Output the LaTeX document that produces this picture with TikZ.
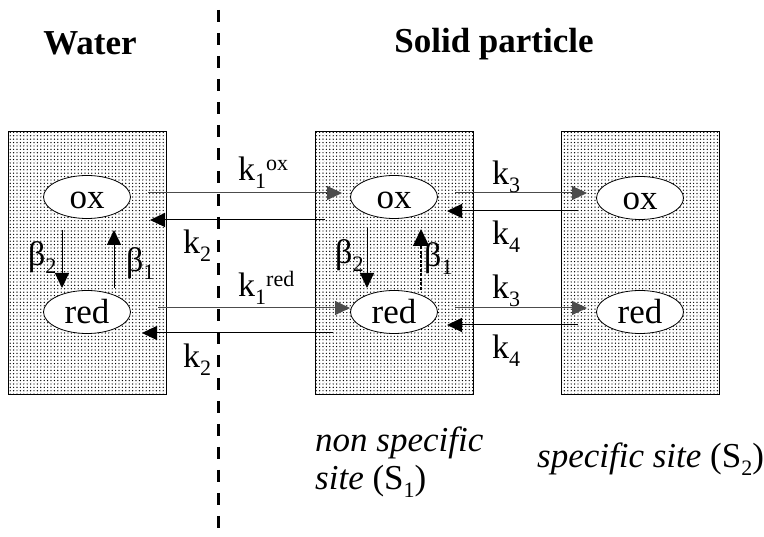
\documentclass[tikz,border=0pt]{standalone}
\usepackage{fontspec}
\setmainfont{Liberation Serif}
\usetikzlibrary{arrows.meta,patterns,shapes.geometric}

% stippled fill for the compartments
\pgfdeclarepatternformonly{stipple}{\pgfqpoint{-1pt}{-1pt}}{\pgfqpoint{1pt}{1pt}}{\pgfqpoint{3.4pt}{3.4pt}}{%
  \pgfpathcircle{\pgfqpoint{0pt}{0pt}}{0.7pt}%
  \pgfpathcircle{\pgfqpoint{1.7pt}{1.7pt}}{0.7pt}%
  \pgfusepath{fill}}

% lowered and raised indices
\newcommand{\lowidx}[1]{\raisebox{-8pt}{\fontsize{22}{22}\selectfont #1}}
\newcommand{\upidx}[1]{\raisebox{10pt}{\fontsize{22}{22}\selectfont #1}}

\tikzset{
  compartment/.style={draw=black, line width=1pt, pattern=stipple, pattern color=black},
  species/.style={ellipse, draw=black, line width=0.8pt, fill=white, minimum width=87pt,
                  minimum height=43pt, inner sep=0pt, font=\fontsize{35}{35}\selectfont},
  rate/.style={line width=1pt, -{Triangle[length=15pt,width=14pt]}},
  fwd/.style={rate, draw=black!70},
  bwd/.style={rate, draw=black},
  lbl/.style={inner sep=0pt, anchor=base west, font=\fontsize{34}{34}\selectfont},
  title/.style={inner sep=0pt, anchor=base, font=\fontsize{35}{35}\selectfont\bfseries},
  note/.style={inner sep=0pt, anchor=base west, font=\fontsize{35}{35}\selectfont},
  divider/.style={line width=3pt, dash pattern=on 12pt off 11pt}
}

\begin{document}
\begin{tikzpicture}[x=1pt,y=-1pt]
\useasboundingbox (0,0) rectangle (764,537);
\fill[white] (0,0) rectangle (764,537);

% compartments
\draw[compartment] (8,132) rectangle (166,395);
\draw[compartment] (315,132) rectangle (473,395);
\draw[compartment] (561,132) rectangle (719,395);

% water / solid boundary
\coordinate (divtop) at (218,10);
\coordinate (divbot) at (218,537);
\draw[divider] (divtop) -- (divbot);

% titles
\node[title] (water) at (90,55) {Water};
\node[title] (solid) at (494,53) {Solid particle};

% redox species
\node[species] (wox)  at (87,197)  {\vphantom{d}ox};
\node[species] (wred) at (87,312)  {\vphantom{d}red};
\node[species] (mox)  at (394,197) {\vphantom{d}ox};
\node[species] (mred) at (394,312) {\vphantom{d}red};
\node[species] (sox)  at (640,198) {\vphantom{d}ox};
\node[species] (sred) at (640,312) {\vphantom{d}red};

% ends of the exchange arrows
\coordinate (a1s) at (148,193); \coordinate (a1e) at (342,193);
\coordinate (b1s) at (325,220); \coordinate (b1e) at (150,220);
\coordinate (a2s) at (158,308); \coordinate (a2e) at (350,308);
\coordinate (b2s) at (333,333); \coordinate (b2e) at (142,333);
\coordinate (c1s) at (455,193); \coordinate (c1e) at (587,193);
\coordinate (d1s) at (578,211); \coordinate (d1e) at (447,211);
\coordinate (c2s) at (455,308); \coordinate (c2e) at (587,308);
\coordinate (d2s) at (578,325); \coordinate (d2e) at (447,325);

\draw[fwd] (a1s) -- (a1e);
\draw[bwd] (b1s) -- (b1e);
\draw[fwd] (a2s) -- (a2e);
\draw[bwd] (b2s) -- (b2e);
\draw[fwd] (c1s) -- (c1e);
\draw[bwd] (d1s) -- (d1e);
\draw[fwd] (c2s) -- (c2e);
\draw[bwd] (d2s) -- (d2e);

% internal conversions
\coordinate (w2s) at (62,230);  \coordinate (w2e) at (62,288);
\coordinate (w1s) at (114,288); \coordinate (w1e) at (114,230);
\coordinate (m2s) at (367,228); \coordinate (m2e) at (367,288);
\coordinate (m1s) at (421,290); \coordinate (m1e) at (421,229);
\draw[rate] (w2s) -- (w2e);
\draw[rate] (w1s) -- (w1e);
\draw[rate] (m2s) -- (m2e);
\draw[rate, line width=1.3pt, dash pattern=on 3pt off 1.5pt,
      -{Triangle[length=17pt,width=16pt]}] (m1s) -- (m1e);

% rate constants
\node[lbl] (k1ox)  at (238,181) {k\lowidx{1}\upidx{ox}};
\node[lbl] (k2a)   at (183,254) {k\lowidx{2}};
\node[lbl] (k1red) at (238,297) {k\lowidx{1}\upidx{red}};
\node[lbl] (k2b)   at (183,368) {k\lowidx{2}};
\node[lbl] (k3a)   at (492,185) {k\lowidx{3}};
\node[lbl] (k4a)   at (492,245) {k\lowidx{4}};
\node[lbl] (k3b)   at (492,299) {k\lowidx{3}};
\node[lbl] (k4b)   at (492,359) {k\lowidx{4}};

\node[lbl] (bw2) at (28,266)  {β\lowidx{2}};
\node[lbl] (bw1) at (126,272) {β\lowidx{1}};
\node[lbl] (bm2) at (335,264) {β\lowidx{2}};
\node[lbl] (bm1) at (424,267) {β\lowidx{1}};

% site captions
\node[note] (ns1) at (315,452) {\itshape non specific};
\node[note] (ns2) at (315,490) {\itshape site\/ \upshape(S\lowidx{1})};
\node[note] (sp)  at (537,468) {\itshape specific site\/ \upshape(S\lowidx{2})};
\end{tikzpicture}
\end{document}
